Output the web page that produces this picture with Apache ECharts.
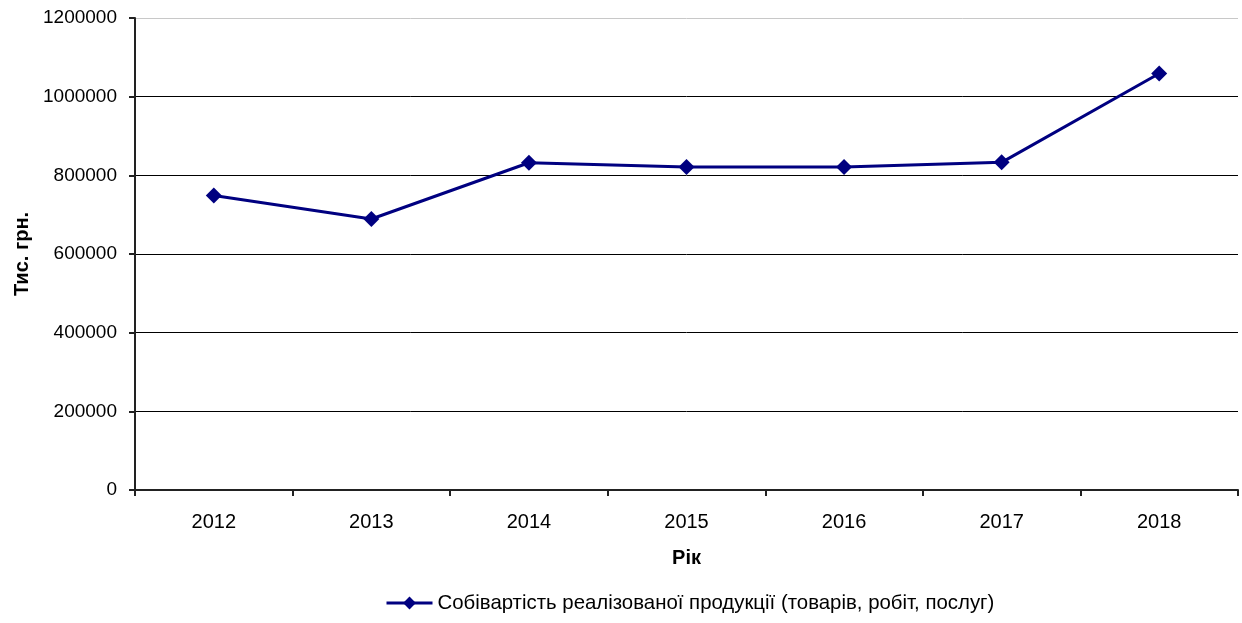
<!DOCTYPE html>
<html>
<head>
<meta charset="utf-8">
<script src="https://cdn.jsdelivr.net/npm/echarts@6/dist/echarts.min.js"></script>
<style>html,body{margin:0;padding:0;background:#fff}#c{width:1242px;height:623px}</style>
</head>
<body>
<div id="c"></div>
<script>
const categories = ['2012', '2013', '2014', '2015', '2016', '2017', '2018'];
const costValues = [749000, 689000, 832000, 821000, 821000, 833000, 1059000];
const seriesName = 'Собівартість реалізованої продукції (товарів, робіт, послуг)';
const yTitle = 'Тис. грн.';
const xTitle = 'Рік';

const chart = echarts.init(document.getElementById('c'), null, {renderer: 'canvas'});
const font = 'Arial, "Liberation Sans", sans-serif';
chart.setOption({
  animation: false,
  backgroundColor: '#fff',
  textStyle: {fontFamily: font, color: '#000'},
  grid: {left: 135, right: 4, top: 18, bottom: 133, containLabel: false, outerBoundsMode: 'none'},
  legend: {
    show: true, left: 380, top: 588, itemWidth: 46, itemHeight: 16, itemGap: 10, padding: 5,
    textStyle: {fontFamily: font, fontSize: 20.4, color: '#000'},
    lineStyle: {width: 3},
    data: [seriesName]
  },
  xAxis: {
    type: 'category', data: categories, boundaryGap: true,
    name: xTitle, nameLocation: 'middle', nameGap: 58,
    nameTextStyle: {fontFamily: font, fontSize: 20, fontWeight: 'bold', color: '#000'},
    axisLine: {show: true, lineStyle: {color: '#222', width: 2}},
    axisTick: {show: true, length: 6, alignWithLabel: false, lineStyle: {color: '#222', width: 2}},
    axisLabel: {fontFamily: font, fontSize: 20, color: '#000', margin: 22},
    splitLine: {show: false}
  },
  yAxis: {
    type: 'value', min: 0, max: 1200000, interval: 200000,
    name: yTitle, nameLocation: 'middle', nameGap: 102, nameRotate: 90,
    nameTextStyle: {fontFamily: font, fontSize: 20, fontWeight: 'bold', color: '#000'},
    axisLine: {show: true, lineStyle: {color: '#222', width: 2}},
    axisTick: {show: true, length: 6, lineStyle: {color: '#222', width: 2}},
    axisLabel: {fontFamily: font, fontSize: 19, color: '#000', margin: 18, formatter: function (v) { return String(v); }},
    splitLine: {show: true, lineStyle: {color: ['#000', '#000', '#000', '#000', '#000', '#000', '#c8c8c8'], width: 1}}
  },
  series: [{
    name: seriesName, type: 'line', data: costValues,
    symbol: 'diamond', symbolSize: 16, showSymbol: true,
    lineStyle: {color: '#000080', width: 3},
    itemStyle: {color: '#000080'}
  }]
});
</script>
</body>
</html>
